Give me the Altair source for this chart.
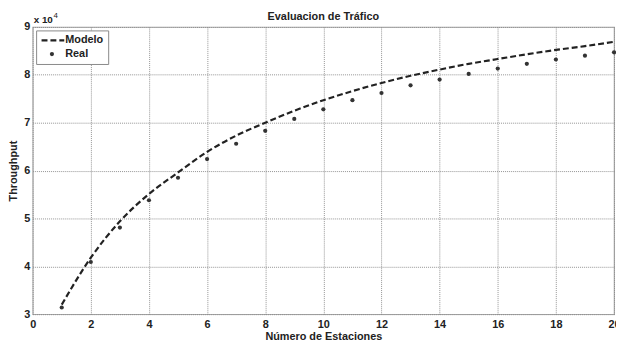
import altair as alt
import pandas as pd

estaciones = list(range(1, 21))
modelo = [32000, 41800, 49400, 55100, 59600, 63900, 67300, 70000, 72500, 74700,
          76600, 78300, 79800, 81100, 82300, 83300, 84300, 85200, 86000, 86900]
real = [31400, 40900, 48100, 53800, 58500, 62400, 65600, 68300, 70800, 72800,
        74700, 76200, 77800, 79000, 80200, 81300, 82300, 83200, 84000, 84700]
x_ticks = list(range(0, 21, 2))
y_ticks = [30000, 40000, 50000, 60000, 70000, 80000, 90000]
title_text = "Evaluacion de Tráfico"

df_m = pd.DataFrame({"x": estaciones, "y": modelo})
df_r = pd.DataFrame({"x": estaciones, "y": real})

FONT = "Liberation Sans"
W, H = 589, 291

xscale = alt.Scale(domain=[0, 20], nice=False, zero=False)
yscale = alt.Scale(domain=[30000, 90000], nice=False, zero=False)

xaxis = alt.Axis(values=x_ticks, title="Número de Estaciones", grid=True,
                 gridDash=[1, 1], gridColor="#888", gridOpacity=0.9,
                 labelFont=FONT, labelFontWeight="bold", labelFontSize=11,
                 labelColor="#222", titleFont=FONT, titleFontWeight="bold",
                 titleFontSize=11, titleColor="#222", tickSize=0, domain=False,
                 labelPadding=4, titlePadding=2, labelFlush=False)
yaxis = alt.Axis(values=y_ticks, title="Throughput", grid=True,
                 gridDash=[1, 1], gridColor="#888", gridOpacity=0.9,
                 labelExpr="datum.value / 10000",
                 labelFont=FONT, labelFontWeight="bold", labelFontSize=11,
                 labelColor="#222", titleFont=FONT, titleFontWeight="bold",
                 titleFontSize=11, titleColor="#222", tickSize=0, domain=False,
                 labelPadding=3, titlePadding=5, labelFlush=False)

line = alt.Chart(df_m).mark_line(color="#222", strokeWidth=2.2,
                                 strokeDash=[6, 3], interpolate="monotone").encode(
    x=alt.X("x:Q", scale=xscale, axis=xaxis),
    y=alt.Y("y:Q", scale=yscale, axis=yaxis),
)

pts = alt.Chart(df_r).mark_point(filled=True, color="#333", size=18, opacity=1).encode(
    x=alt.X("x:Q", scale=xscale),
    y=alt.Y("y:Q", scale=yscale),
)

one = pd.DataFrame({"a": [0]})

# legend box
leg_box = alt.Chart(one).mark_rect(
    fill="white", stroke="#888", strokeWidth=1).encode(
    x=alt.value(4), x2=alt.value(77), y=alt.value(4), y2=alt.value(38))
leg_line = alt.Chart(one).mark_rule(
    color="#222", strokeWidth=2.2, strokeDash=[6, 3]).encode(
    x=alt.value(9), x2=alt.value(32), y=alt.value(13.5))
leg_pt = alt.Chart(one).mark_point(
    filled=True, color="#333", size=18, opacity=1).encode(
    x=alt.value(19.5), y=alt.value(27.5))
leg_txt = alt.Chart(pd.DataFrame({"t": ["Modelo", "Real"], "yy": [13.5, 27.5]})).mark_text(
    align="left", baseline="middle", font=FONT, fontWeight="bold", fontSize=11,
    color="#222").encode(
    x=alt.value(33), y=alt.Y("yy:Q", scale=None), text="t:N")

exp_txt = alt.Chart(pd.DataFrame({"t": ["x 10"]})).mark_text(
    align="left", baseline="middle", font=FONT, fontWeight="bold", fontSize=10,
    color="#222").encode(x=alt.value(1), y=alt.value(-7), text="t:N")
exp_sup = alt.Chart(pd.DataFrame({"t": ["4"]})).mark_text(
    align="left", baseline="middle", font=FONT, fontWeight="normal", fontSize=8,
    color="#222").encode(x=alt.value(21), y=alt.value(-11), text="t:N")

ttl = alt.Chart(pd.DataFrame({"t": [title_text]})).mark_text(
    align="center", baseline="middle", font=FONT, fontWeight="bold", fontSize=11,
    color="#222").encode(x=alt.value(W / 2), y=alt.value(-10), text="t:N")

chart = alt.layer(line, pts, leg_box, leg_line, leg_pt, leg_txt, exp_txt, exp_sup, ttl).properties(
    width=W, height=H,
    padding={"left": 25, "top": 17, "right": 2, "bottom": 29},
    autosize="none",
).configure_view(stroke="#aaa", strokeWidth=1.2)

chart.save("out.html", embed_options={"renderer": "svg", "actions": False})
